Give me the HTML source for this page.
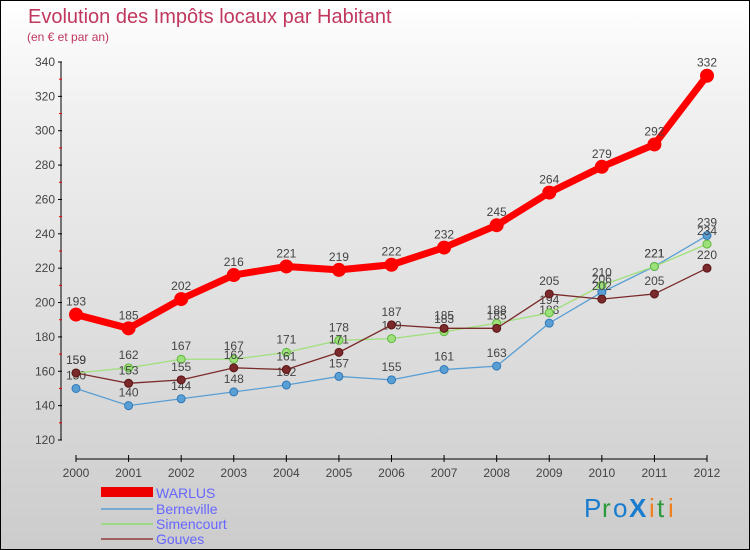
<!DOCTYPE html>
<html><head><meta charset="utf-8"><style>
body{margin:0}
#wrap{width:748px;height:548px;border:1px solid #000;background:linear-gradient(#fff,#f0f0f0 20%,#ccc);position:relative;font-family:"Liberation Sans",sans-serif;overflow:hidden}
svg text{font-family:"Liberation Sans",sans-serif}
</style></head><body>
<div id="wrap">
<svg id="chart" width="748" height="548">
<text x="27" y="22" font-size="20" fill="#c0385e">Evolution des Impôts locaux par Habitant</text>
<text x="26" y="40" font-size="12" fill="#c0385e">(en € et par an)</text>
<g id="axes"></g><g id="series"></g>
<g>
<rect x="100" y="486" width="52" height="10" fill="#e00"/>
<text x="155" y="497" font-size="14" fill="#66f">WARLUS</text>
<line x1="100" y1="508" x2="152" y2="508" stroke="#7aaad0" stroke-width="2"/>
<text x="155" y="513" font-size="14" fill="#66f">Berneville</text>
<line x1="100" y1="523" x2="152" y2="523" stroke="#9fd889" stroke-width="2"/>
<text x="155" y="528" font-size="14" fill="#66f">Simencourt</text>
<line x1="100" y1="538" x2="152" y2="538" stroke="#a06060" stroke-width="2"/>
<text x="155" y="543" font-size="14" fill="#66f">Gouves</text>
</g>
<g font-size="26" font-family="Liberation Sans">
<text x="583" y="516" fill="#1a7ccf">P</text><text x="601" y="516" fill="#2a9a3a">r</text><text x="612" y="516" fill="#1a7ccf">o</text><text x="628" y="516" fill="#1a7ccf" font-weight="bold">X</text><text x="648" y="516" fill="#f08020">i</text><text x="656" y="516" fill="#2a9a3a">t</text><text x="667" y="516" fill="#f08020">i</text>
</g>
</svg>
</div>
<script>
const years=[2000,2001,2002,2003,2004,2005,2006,2007,2008,2009,2010,2011,2012];
const warlus=[193,185,202,216,221,219,222,232,245,264,279,292,332];
const berneville=[150,140,144,148,152,157,155,161,163,188,206,221,239];
const simencourt=[159,162,167,167,171,178,179,183,188,194,210,221,234];
const gouves=[159,153,155,162,161,171,187,185,185,205,202,205,220];
const yTicks=[120,140,160,180,200,220,240,260,280,300,320,340];
const NS="http://www.w3.org/2000/svg";
const x=i=>75+i*(706-75)/12;
const y=v=>439-(v-120)*(439-61)/220;
function mk(t,a,p){const e=document.createElementNS(NS,t);for(const k in a)e.setAttribute(k,a[k]);p.appendChild(e);return e;}
const ax=document.getElementById('axes');
const yl=mk('line',{x1:60,y1:61,x2:60,y2:439,stroke:'#000'},ax);


yTicks.forEach(v=>{
 mk('line',{x1:57,y1:y(v),x2:61,y2:y(v),stroke:'#000'},ax);
 if(v<340) mk('line',{x1:58,y1:y(v+10),x2:61,y2:y(v+10),stroke:'#e00'},ax);
 const t=mk('text',{x:54,y:y(v)+4,'font-size':12,fill:'#444','text-anchor':'end'},ax);
 t.textContent=v;
 
 
});
const xl=mk('line',{x1:75,y1:458,x2:706,y2:458,stroke:'#000'},ax);


years.forEach((yr,i)=>{
 mk('line',{x1:x(i),y1:454,x2:x(i),y2:461,stroke:'#000'},ax);
 const t=mk('text',{x:x(i),y:476,'font-size':12,fill:'#444','text-anchor':'middle'},ax);
 t.textContent=yr;
 
 
});
const sg=document.getElementById('series');
function draw(data,name,color,w,r,stroke){
 const g=mk('g',{},sg);
 
 
 const pl=mk('polyline',{points:data.map((v,i)=>x(i)+','+y(v)).join(' '),fill:'none',stroke:color,'stroke-width':w,'stroke-linejoin':'round'},g);
 
 
 data.forEach((v,i)=>{
  const c=mk('circle',{cx:x(i),cy:y(v),r:r,fill:color,stroke:stroke,'stroke-width':1},g);
  
  
  const t=mk('text',{x:x(i),y:y(v)-9,'font-size':12,fill:'#444','text-anchor':'middle'},g);
  t.textContent=v;
  
  
 });
}
draw(berneville,'berneville','#5a9fd4',1.3,4,'#2f78b8');
draw(simencourt,'simencourt','#9ee07a',1.3,4,'#5bb83a');
draw(gouves,'gouves','#7a2a2a',1.3,4,'#5a1515');
draw(warlus,'warlus','#f00',7,6.5,'#f00');
</script>
</body></html>
